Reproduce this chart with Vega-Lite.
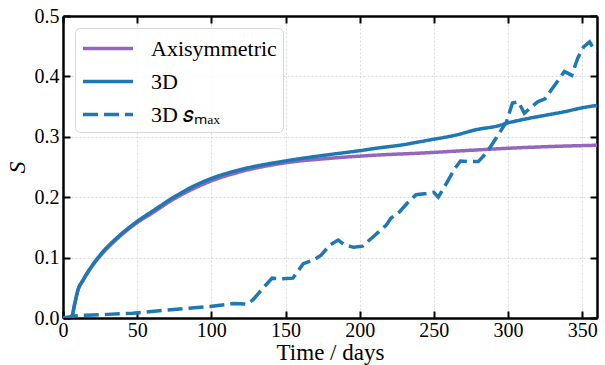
{
  "$schema": "https://vega.github.io/schema/vega-lite/v6.json",
  "width": 534,
  "height": 302,
  "autosize": "none",
  "padding": {"left": 63, "top": 16, "right": 8, "bottom": 47},
  "background": "white",
  "config": {
    "view": {"stroke": null},
    "axis": {
      "domainColor": "black",
      "domainWidth": 2.5,
      "tickColor": "black",
      "tickWidth": 2,
      "tickSize": -7,
      "gridColor": "#d0d0d0",
      "gridDash": [2, 2],
      "gridWidth": 0.8,
      "zindex": 1
    }
  },
  "datasets": {
    "curves": [
      {"day": 0, "S": 0, "series": "Axisymmetric"},
      {"day": 5.5, "S": 0, "series": "Axisymmetric"},
      {"day": 8, "S": 0.024, "series": "Axisymmetric"},
      {"day": 10, "S": 0.045, "series": "Axisymmetric"},
      {"day": 13.5, "S": 0.062, "series": "Axisymmetric"},
      {"day": 20, "S": 0.087, "series": "Axisymmetric"},
      {"day": 27, "S": 0.108, "series": "Axisymmetric"},
      {"day": 36, "S": 0.130, "series": "Axisymmetric"},
      {"day": 50, "S": 0.158, "series": "Axisymmetric"},
      {"day": 61, "S": 0.175, "series": "Axisymmetric"},
      {"day": 74, "S": 0.196, "series": "Axisymmetric"},
      {"day": 87, "S": 0.213, "series": "Axisymmetric"},
      {"day": 100, "S": 0.227, "series": "Axisymmetric"},
      {"day": 121, "S": 0.243, "series": "Axisymmetric"},
      {"day": 150, "S": 0.257, "series": "Axisymmetric"},
      {"day": 178, "S": 0.264, "series": "Axisymmetric"},
      {"day": 200, "S": 0.268, "series": "Axisymmetric"},
      {"day": 214, "S": 0.270, "series": "Axisymmetric"},
      {"day": 241, "S": 0.273, "series": "Axisymmetric"},
      {"day": 270, "S": 0.277, "series": "Axisymmetric"},
      {"day": 300, "S": 0.281, "series": "Axisymmetric"},
      {"day": 330, "S": 0.284, "series": "Axisymmetric"},
      {"day": 360, "S": 0.286, "series": "Axisymmetric"},

      {"day": 0, "S": 0, "series": "3D"},
      {"day": 5.5, "S": 0, "series": "3D"},
      {"day": 8, "S": 0.025, "series": "3D"},
      {"day": 10, "S": 0.046, "series": "3D"},
      {"day": 13.5, "S": 0.063, "series": "3D"},
      {"day": 20, "S": 0.088, "series": "3D"},
      {"day": 27, "S": 0.110, "series": "3D"},
      {"day": 36, "S": 0.132, "series": "3D"},
      {"day": 50, "S": 0.160, "series": "3D"},
      {"day": 61, "S": 0.178, "series": "3D"},
      {"day": 74, "S": 0.199, "series": "3D"},
      {"day": 87, "S": 0.217, "series": "3D"},
      {"day": 100, "S": 0.231, "series": "3D"},
      {"day": 122, "S": 0.247, "series": "3D"},
      {"day": 150, "S": 0.260, "series": "3D"},
      {"day": 178, "S": 0.270, "series": "3D"},
      {"day": 200, "S": 0.277, "series": "3D"},
      {"day": 214, "S": 0.282, "series": "3D"},
      {"day": 227, "S": 0.286, "series": "3D"},
      {"day": 241, "S": 0.292, "series": "3D"},
      {"day": 250, "S": 0.296, "series": "3D"},
      {"day": 257, "S": 0.299, "series": "3D"},
      {"day": 265, "S": 0.303, "series": "3D"},
      {"day": 279, "S": 0.312, "series": "3D"},
      {"day": 293, "S": 0.318, "series": "3D"},
      {"day": 300, "S": 0.323, "series": "3D"},
      {"day": 315, "S": 0.331, "series": "3D"},
      {"day": 326, "S": 0.336, "series": "3D"},
      {"day": 339, "S": 0.342, "series": "3D"},
      {"day": 350, "S": 0.348, "series": "3D"},
      {"day": 360, "S": 0.352, "series": "3D"}
    ],
    "smax": [
      {"day": 0, "S": 0, "series": "3D smax"},
      {"day": 5, "S": 0.002, "series": "3D smax"},
      {"day": 10, "S": 0.004, "series": "3D smax"},
      {"day": 20, "S": 0.005, "series": "3D smax"},
      {"day": 30, "S": 0.006, "series": "3D smax"},
      {"day": 47, "S": 0.008, "series": "3D smax"},
      {"day": 70, "S": 0.013, "series": "3D smax"},
      {"day": 99, "S": 0.019, "series": "3D smax"},
      {"day": 115, "S": 0.024, "series": "3D smax"},
      {"day": 124, "S": 0.023, "series": "3D smax"},
      {"day": 128, "S": 0.03, "series": "3D smax"},
      {"day": 135, "S": 0.05, "series": "3D smax"},
      {"day": 141, "S": 0.066, "series": "3D smax"},
      {"day": 147, "S": 0.065, "series": "3D smax"},
      {"day": 155, "S": 0.066, "series": "3D smax"},
      {"day": 162, "S": 0.09, "series": "3D smax"},
      {"day": 169, "S": 0.096, "series": "3D smax"},
      {"day": 174, "S": 0.104, "series": "3D smax"},
      {"day": 180, "S": 0.121, "series": "3D smax"},
      {"day": 185.5, "S": 0.129, "series": "3D smax"},
      {"day": 190, "S": 0.121, "series": "3D smax"},
      {"day": 196, "S": 0.117, "series": "3D smax"},
      {"day": 202, "S": 0.119, "series": "3D smax"},
      {"day": 208, "S": 0.132, "series": "3D smax"},
      {"day": 213, "S": 0.143, "series": "3D smax"},
      {"day": 218, "S": 0.154, "series": "3D smax"},
      {"day": 221, "S": 0.165, "series": "3D smax"},
      {"day": 227, "S": 0.176, "series": "3D smax"},
      {"day": 232, "S": 0.19, "series": "3D smax"},
      {"day": 238, "S": 0.204, "series": "3D smax"},
      {"day": 245, "S": 0.206, "series": "3D smax"},
      {"day": 250, "S": 0.208, "series": "3D smax"},
      {"day": 253, "S": 0.2, "series": "3D smax"},
      {"day": 259, "S": 0.225, "series": "3D smax"},
      {"day": 264, "S": 0.247, "series": "3D smax"},
      {"day": 268, "S": 0.26, "series": "3D smax"},
      {"day": 274, "S": 0.259, "series": "3D smax"},
      {"day": 280, "S": 0.259, "series": "3D smax"},
      {"day": 286, "S": 0.275, "series": "3D smax"},
      {"day": 292, "S": 0.298, "series": "3D smax"},
      {"day": 299, "S": 0.325, "series": "3D smax"},
      {"day": 303, "S": 0.356, "series": "3D smax"},
      {"day": 307, "S": 0.358, "series": "3D smax"},
      {"day": 311, "S": 0.339, "series": "3D smax"},
      {"day": 316, "S": 0.35, "series": "3D smax"},
      {"day": 320, "S": 0.358, "series": "3D smax"},
      {"day": 325, "S": 0.363, "series": "3D smax"},
      {"day": 329, "S": 0.377, "series": "3D smax"},
      {"day": 334, "S": 0.394, "series": "3D smax"},
      {"day": 338, "S": 0.408, "series": "3D smax"},
      {"day": 343, "S": 0.402, "series": "3D smax"},
      {"day": 347, "S": 0.43, "series": "3D smax"},
      {"day": 351, "S": 0.449, "series": "3D smax"},
      {"day": 355, "S": 0.457, "series": "3D smax"},
      {"day": 358, "S": 0.445, "series": "3D smax"},
      {"day": 360, "S": 0.442, "series": "3D smax"}
    ]
  },
  "layer": [
    {
      "data": {"name": "curves"},
      "mark": {"type": "line", "strokeWidth": 3.5, "clip": true, "interpolate": "monotone"},
      "encoding": {
        "x": {
          "field": "day", "type": "quantitative",
          "scale": {"domain": [0, 360], "nice": false, "zero": false},
          "axis": {"orient": "bottom", "title": "Time / days", "values": [0, 50, 100, 150, 200, 250, 300, 350], "labelPadding": 9, "grid": true, "labelFlush": false,
            "labelFont": "Liberation Serif", "labelFontSize": 20, "labelColor": "black",
            "titleFont": "Liberation Serif", "titleFontSize": 23, "titleFontWeight": 400, "titleColor": "black", "titleY": 41, "titleBaseline": "alphabetic"}
        },
        "y": {
          "field": "S", "type": "quantitative",
          "scale": {"domain": [0, 0.5], "nice": false},
          "axis": {"orient": "left", "title": "S", "values": [0, 0.1, 0.2, 0.3, 0.4, 0.5], "format": ".1f", "labelPadding": 11, "grid": true, "labelFlush": false,
            "labelFont": "Liberation Serif", "labelFontSize": 20, "labelColor": "black",
            "titleFont": "Liberation Serif", "titleFontSize": 24, "titleFontWeight": 400, "titleFontStyle": "italic", "titleColor": "black", "titleX": -46, "titleBaseline": "middle"}
        },
        "color": {
          "field": "series", "type": "nominal",
          "scale": {"domain": ["Axisymmetric", "3D", "3D smax"], "range": ["#9467bd", "#1f77b4", "#1f77b4"]},
          "legend": {
            "title": null,
            "orient": "top-left",
            "offset": 12,
            "labelExpr": "datum.label == '3D smax' ? '3D 𝑠ₘₐₓ' : datum.label",
            "labelFont": "Liberation Serif",
            "labelFontSize": 22,
            "labelColor": "black",
            "labelOffset": 41,
            "symbolType": "M-1,0H3",
            "symbolSize": 625,
            "symbolStrokeWidth": 3.5,
            "rowPadding": 7,
            "padding": 6,
            "fillColor": "rgba(255,255,255,0.85)",
            "strokeColor": "#d8d8d8",
            "cornerRadius": 5
          }
        },
        "strokeDash": {
          "field": "series", "type": "nominal",
          "scale": {"domain": ["Axisymmetric", "3D", "3D smax"], "range": [[1, 0], [1, 0], [15, 6]]},
          "legend": null
        },
        "order": {"field": "day", "type": "quantitative"}
      }
    },
    {
      "data": {"name": "smax"},
      "mark": {"type": "line", "strokeWidth": 3.5, "clip": true},
      "encoding": {
        "x": {"field": "day", "type": "quantitative", "axis": null},
        "y": {"field": "S", "type": "quantitative", "axis": null},
        "color": {"field": "series", "type": "nominal"},
        "strokeDash": {"field": "series", "type": "nominal"},
        "order": {"field": "day", "type": "quantitative"}
      }
    },
    {
      "data": {"name": "curves"},
      "mark": {"type": "line", "opacity": 0},
      "encoding": {
        "x": {
          "field": "day", "type": "quantitative",
          "axis": {"orient": "top", "title": null, "values": [0, 50, 100, 150, 200, 250, 300, 350], "labels": false, "grid": false}
        },
        "y": {
          "field": "S", "type": "quantitative",
          "axis": {"orient": "right", "title": null, "values": [0, 0.1, 0.2, 0.3, 0.4, 0.5], "labels": false, "grid": false}
        },
        "detail": {"field": "series"}
      }
    }
  ],
  "resolve": {"axis": {"x": "independent", "y": "independent"}}
}
